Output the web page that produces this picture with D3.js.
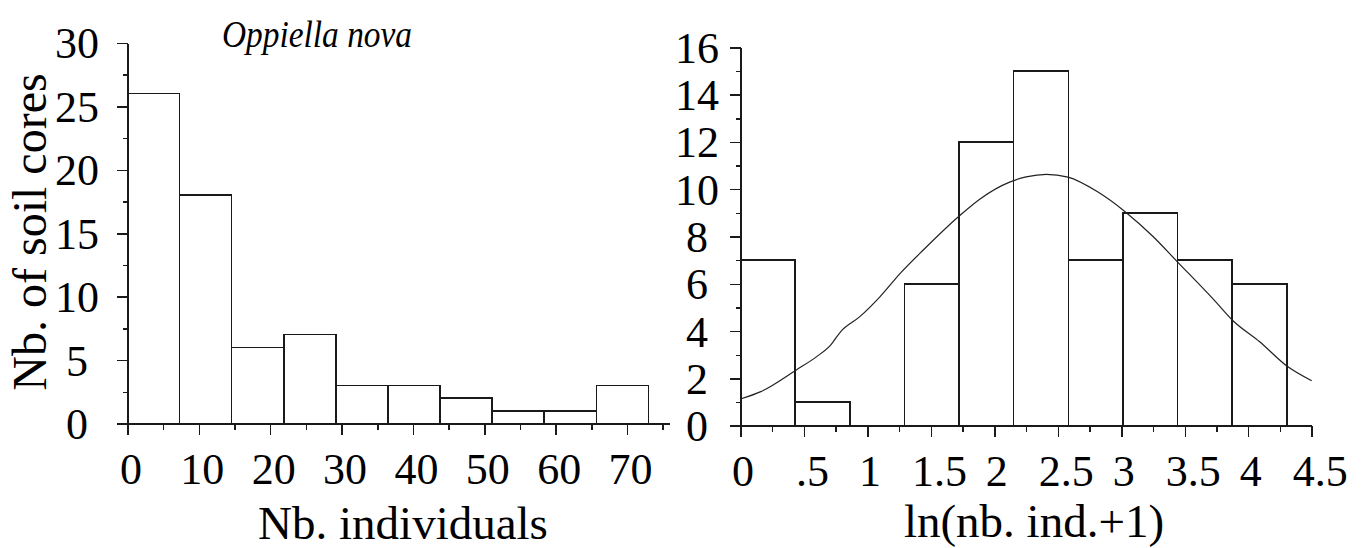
<!DOCTYPE html>
<html>
<head>
<meta charset="utf-8">
<script src="https://cdn.jsdelivr.net/npm/d3@7"></script>
<style>
  html, body { margin: 0; padding: 0; background: #fff; }
  svg { display: block; }
  .axis path, .axis line { stroke: #1a1a1a; stroke-width: 1.5px; shape-rendering: crispEdges; }
  .axis text { font-family: "Liberation Serif", "Times New Roman", Times, serif; font-size: 44px; fill: #000; }
  .bar { fill: #fff; stroke: #1a1a1a; stroke-width: 1.5px; shape-rendering: crispEdges; }
  .label { font-family: "Liberation Serif", "Times New Roman", Times, serif; fill: #000; }
</style>
</head>
<body>
<script>
  'use strict';

  // left histogram: raw counts
  var leftBinWidth = 7.3;
  var leftCounts = [26, 18, 6, 7, 3, 3, 2, 1, 1, 3];
  var leftXTicks = [0, 10, 20, 30, 40, 50, 60, 70];
  var leftXMinor = [5, 15, 25, 35, 45, 55, 65, 75];
  var leftYTicks = [0, 5, 10, 15, 20, 25, 30];
  var leftYMinor = [2.5, 7.5, 12.5, 17.5, 22.5, 27.5];

  // right histogram: ln(n+1)
  var rightBinWidth = 0.4304;
  var rightCounts = [7, 1, 0, 6, 12, 15, 7, 9, 7, 6];
  var rightXTicks = [0, 0.5, 1, 1.5, 2, 2.5, 3, 3.5, 4, 4.5];
  var rightXTickLabels = ["0", ".5", "1", "1.5", "2", "2.5", "3", "3.5", "4", "4.5"];
  var rightXMinor = [0.25, 0.75, 1.25, 1.75, 2.25, 2.75, 3.25, 3.75, 4.25];
  var rightYTicks = [0, 2, 4, 6, 8, 10, 12, 14, 16];
  var rightYMinor = [1, 3, 5, 7, 9, 11, 13, 15];

  // fitted curve
  var curveX = [0, 0.16, 0.44, 0.60, 0.71, 0.79, 0.94, 1.10, 1.26, 1.44, 1.73, 1.89, 2.12, 2.25, 2.41,
                2.58, 2.81, 3.03, 3.25, 3.44, 3.73, 3.88, 4.09, 4.31, 4.5];
  var curveY = [1.13, 1.44, 2.36, 2.92, 3.41, 3.98, 4.61, 5.46, 6.45, 7.43, 8.9, 9.6, 10.3, 10.52, 10.63,
                10.51, 9.90, 9.05, 8.0, 6.94, 5.32, 4.44, 3.55, 2.50, 1.90];

  var svg = d3.select("body").append("svg")
      .attr("width", 1365)
      .attr("height", 548);

  ////////////////////////////////////////////////////////////////
  // left chart
  ////////////////////////////////////////////////////////////////

  var xL = d3.scaleLinear().domain([0, 76]).range([127.5, 127.5 + 76 * 7.136]);
  var yL = d3.scaleLinear().domain([0, 30]).range([423.5, 43]);

  drawBars(svg, xL, yL, leftCounts, leftBinWidth);
  drawXAxis(svg, xL, yL(0), leftXTicks, leftXMinor, function (d) { return String(d); }, function () { return 3; });
  drawYAxis(svg, yL, xL(0), leftYTicks, leftYMinor, 77);

  svg.append("text")
      .attr("class", "label")
      .attr("x", 222)
      .attr("y", 47)
      .attr("textLength", 190)
      .attr("lengthAdjust", "spacingAndGlyphs")
      .style("font-size", "37px")
      .style("font-style", "italic")
      .text("Oppiella nova");

  svg.append("text")
      .attr("class", "label")
      .attr("x", 403)
      .attr("y", 539)
      .attr("text-anchor", "middle")
      .style("font-size", "47px")
      .text("Nb. individuals");

  svg.append("text")
      .attr("class", "label")
      .attr("transform", "translate(46,232) rotate(-90)")
      .attr("text-anchor", "middle")
      .style("font-size", "48px")
      .text("Nb. of soil cores");

  ////////////////////////////////////////////////////////////////
  // right chart
  ////////////////////////////////////////////////////////////////

  var xR = d3.scaleLinear().domain([0, 4.5]).range([740.5, 1311.7]);
  var yR = d3.scaleLinear().domain([0, 16]).range([425.7, 47.3]);

  drawBars(svg, xR, yR, rightCounts, rightBinWidth);

  var line = d3.line()
      .x(function (d) { return xR(d[0]); })
      .y(function (d) { return yR(d[1]); })
      .curve(d3.curveMonotoneX);

  svg.append("path")
      .datum(d3.zip(curveX, curveY))
      .attr("d", line)
      .attr("fill", "none")
      .attr("stroke", "#222")
      .attr("stroke-width", 1.2);

  drawXAxis(svg, xR, yR(0), rightXTicks, rightXMinor,
      function (d, i) { return rightXTickLabels[i]; },
      function (d, i) { return rightXTickLabels[i].indexOf(".") >= 0 ? 8 : 2; });
  drawYAxis(svg, yR, xR(0), rightYTicks, rightYMinor, 697);

  svg.append("text")
      .attr("class", "label")
      .attr("x", 1034)
      .attr("y", 537)
      .attr("text-anchor", "middle")
      .style("font-size", "47px")
      .text("ln(nb. ind.+1)");

  ////////////////////////////////////////////////////////////////
  // helpers
  ////////////////////////////////////////////////////////////////

  function drawBars(root, x, y, counts, binWidth) {
    // keep the bin index, then drop empty bins
    var bins = counts.map(function (c, i) { return { i: i, c: c }; })
                     .filter(function (b) { return b.c > 0; });

    root.append("g").selectAll("rect")
        .data(bins)
        .enter().append("rect")
        .attr("class", "bar")
        .attr("x", function (b) { return x(b.i * binWidth); })
        .attr("width", function (b) { return x((b.i + 1) * binWidth) - x(b.i * binWidth); })
        .attr("y", function (b) { return y(b.c); })
        .attr("height", function (b) { return y(0) - y(b.c); });
  }

  function drawXAxis(root, x, yPos, major, minor, fmt, shift) {
    var g = root.append("g")
        .attr("class", "axis")
        .attr("transform", "translate(0," + yPos + ")");

    g.call(d3.axisBottom(x).tickValues(major).tickSize(11).tickSizeOuter(0).tickPadding(18).tickFormat(fmt));
    g.selectAll(".tick text")
        .attr("dx", shift);

    var m = root.append("g")
        .attr("class", "axis")
        .attr("transform", "translate(0," + yPos + ")");
    m.call(d3.axisBottom(x).tickValues(minor).tickSize(6).tickSizeOuter(0).tickFormat(""));
    m.select(".domain").remove();
  }

  function drawYAxis(root, y, xPos, major, minor, labelX) {
    var g = root.append("g")
        .attr("class", "axis")
        .attr("transform", "translate(" + xPos + ",0)");

    g.call(d3.axisLeft(y).tickValues(major).tickSize(11).tickSizeOuter(0));
    g.selectAll(".tick text")
        .attr("text-anchor", "middle")
        .attr("x", labelX - xPos)
        .attr("dy", "0.34em");

    var m = root.append("g")
        .attr("class", "axis")
        .attr("transform", "translate(" + xPos + ",0)");
    m.call(d3.axisLeft(y).tickValues(minor).tickSize(5).tickSizeOuter(0).tickFormat(""));
    m.select(".domain").remove();
  }
</script>
</body>
</html>
